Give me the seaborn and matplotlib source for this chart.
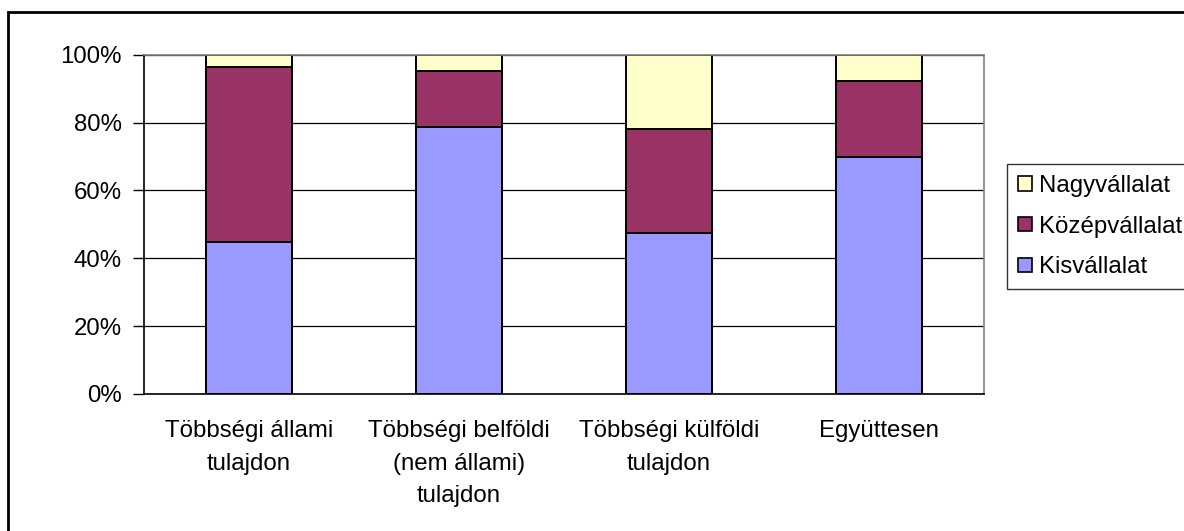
import numpy as np
import pandas as pd
import matplotlib
matplotlib.use('Agg')
import matplotlib.pyplot as plt
from matplotlib.patches import Rectangle, Patch
import seaborn as sns

sns.set_style('white')
plt.rcParams['font.family'] = ['Liberation Sans', 'DejaVu Sans']
plt.rcParams['text.color'] = 'black'
plt.rcParams['xtick.color'] = 'black'
plt.rcParams['ytick.color'] = 'black'

# data (percent)
categories = ['Többségi állami\ntulajdon', 'Többségi belföldi\n(nem állami)\ntulajdon',
              'Többségi külföldi\ntulajdon', 'Együttesen']
kis = [44.8, 78.8, 47.5, 69.9]
kozep = [51.5, 16.4, 30.7, 22.4]
nagy = [3.7, 4.8, 21.8, 7.7]
series_names = ['Nagyvállalat', 'Középvállalat', 'Kisvállalat']
colours = {'Nagyvállalat': '#FFFFCC', 'Középvállalat': '#993366', 'Kisvállalat': '#9999FF'}

df = pd.DataFrame({'cat': categories, 'kis': kis, 'kozep': kozep, 'nagy': nagy})
df['top_kozep'] = df['kis'] + df['kozep']
df['top_nagy'] = df['top_kozep'] + df['nagy']

fs = 17.3
fig = plt.figure(figsize=(11.84, 5.31), dpi=100)
ax = fig.add_axes([144 / 1184, 1 - 394 / 531, 840 / 1184, (394 - 54.7) / 531])

# stacked bars: draw cumulative totals, tallest first
for col, name in [('top_nagy', 'Nagyvállalat'), ('top_kozep', 'Középvállalat'), ('kis', 'Kisvállalat')]:
    sns.barplot(data=df, x='cat', y=col, color=colours[name], saturation=1, width=0.405,
                edgecolor='black', linewidth=1.4, ax=ax)

ax.set_xlim(-0.5, 3.5)
ax.set_ylim(0, 100)
ax.set_yticks([0, 20, 40, 60, 80, 100])
ax.set_yticklabels(['0%', '20%', '40%', '60%', '80%', '100%'])
ax.set_xlabel('')
ax.set_ylabel('')
ax.set_axisbelow(True)
ax.yaxis.grid(True, color='black', linewidth=0.9)
ax.xaxis.grid(False)

ax.set_xticks(np.arange(-0.5, 4.0, 1.0), minor=True)
ax.tick_params(axis='x', which='major', length=0, pad=19, labelsize=fs, labelcolor='black')
ax.tick_params(axis='x', which='minor', length=8, width=1, direction='out', color='black')
ax.tick_params(axis='y', length=8, width=1, direction='out', color='black', pad=8, labelsize=fs,
               labelcolor='black', left=True)
for lab in ax.get_xticklabels():
    lab.set_linespacing(1.62)

ax.spines['left'].set_color('black')
ax.spines['bottom'].set_color('black')
ax.spines['top'].set_color('#808080')
ax.spines['right'].set_color('#808080')
for s in ax.spines.values():
    s.set_linewidth(1.2)

handles = [Patch(facecolor=colours[n], edgecolor='black', linewidth=1.2, label=n) for n in series_names]
leg = fig.legend(handles=handles, loc='upper left', bbox_to_anchor=(1007 / 1184, 1 - 164 / 531),
                 bbox_transform=fig.transFigure, fontsize=fs, frameon=True, fancybox=False,
                 edgecolor='black', handlelength=0.6, handleheight=0.55, handletextpad=0.3,
                 labelspacing=0.78, borderpad=0.45, borderaxespad=0)
leg.get_frame().set_linewidth(1.0)

# outer chart frame
fig.patches.append(Rectangle((8 / 1184, -0.1), 1.2, 1.1 - 12 / 531, transform=fig.transFigure,
                             fill=False, edgecolor='black', linewidth=2, zorder=0))

fig.savefig('out.png', dpi=100)
